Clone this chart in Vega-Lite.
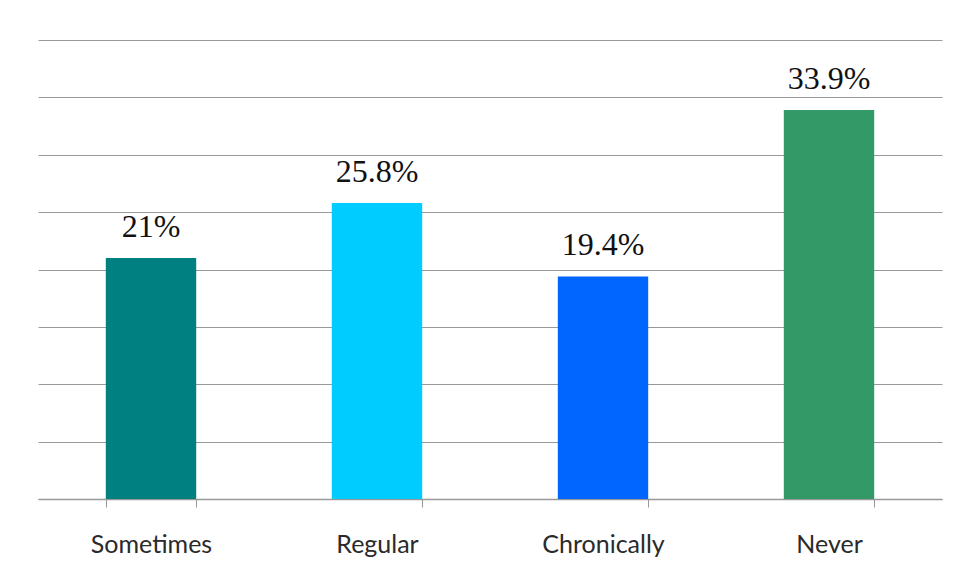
{
  "$schema": "https://vega.github.io/schema/vega-lite/v6.json",
  "autosize": "none",
  "width": 904,
  "height": 459,
  "padding": {"left": 38, "top": 40, "right": 20, "bottom": 83},
  "background": "white",
  "config": {"view": {"stroke": null}},
  "data": {"values": [
    {"category": "Sometimes", "value": 21, "label": "21%"},
    {"category": "Regular", "value": 25.8, "label": "25.8%"},
    {"category": "Chronically", "value": 19.4, "label": "19.4%"},
    {"category": "Never", "value": 33.9, "label": "33.9%"}
  ]},
  "encoding": {
    "x": {
      "field": "category", "type": "nominal", "sort": null,
      "scale": {"paddingInner": 0.6, "paddingOuter": 0.3},
      "axis": {
        "title": null, "labelAngle": 0, "tickBand": "extent",
        "domainColor": "#999999", "tickColor": "#999999", "tickSize": 8, "domainWidth": 1.5,
        "labelFont": "Lato", "labelFontSize": 25, "labelColor": "#2a2a2a",
        "labelBaseline": "alphabetic", "labelPadding": 45, "grid": false
      }
    },
    "y": {
      "field": "value", "type": "quantitative",
      "scale": {"domain": [0, 40], "nice": false},
      "axis": {
        "title": null, "labels": false, "ticks": false, "domain": false,
        "values": [0, 5, 10, 15, 20, 25, 30, 35, 40],
        "gridColor": "#999999", "gridWidth": 1.2
      }
    }
  },
  "layer": [
    {
      "mark": {"type": "bar"},
      "encoding": {
        "color": {
          "field": "category", "type": "nominal", "legend": null,
          "scale": {"domain": ["Sometimes", "Regular", "Chronically", "Never"],
                    "range": ["#008080", "#00CCFF", "#0066FF", "#339966"]}
        }
      }
    },
    {
      "mark": {"type": "text", "baseline": "alphabetic", "dy": -21,
               "font": "Liberation Serif", "fontSize": 32, "color": "#111111"},
      "encoding": {"text": {"field": "label"}}
    }
  ]
}
